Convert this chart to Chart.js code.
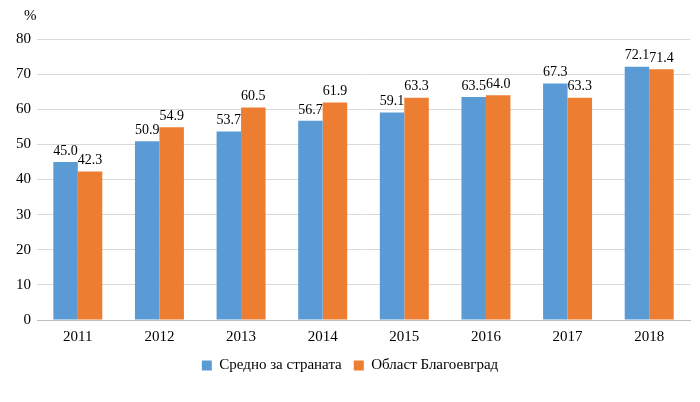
<!DOCTYPE html>
<html><head><meta charset="utf-8">
<script src="https://cdn.jsdelivr.net/npm/chart.js@4"></script>
<style>body{margin:0;background:#fff}#wrap{width:700px;height:402px}</style>
</head><body><div id="wrap"><canvas id="c"></canvas></div>
<script>
const years = ['2011','2012','2013','2014','2015','2016','2017','2018']
const national = [45.0, 50.9, 53.7, 56.7, 59.1, 63.5, 67.3, 72.1]
const blagoevgrad = [42.3, 54.9, 60.5, 61.9, 63.3, 64.0, 63.3, 71.4]

const font = { family: '"Liberation Serif", "Times New Roman", serif', size: 15 }

const valueLabels = {
    id: 'valueLabels',
    afterDatasetsDraw(chart) {
        const ctx = chart.ctx
        ctx.save()
        ctx.font = '14px "Liberation Serif", serif'
        ctx.fillStyle = '#000'
        ctx.textAlign = 'center'
        ctx.textBaseline = 'bottom'
        chart.data.datasets.forEach((ds, i) => {
            chart.getDatasetMeta(i).data.forEach((bar, j) => {
                ctx.fillText(ds.data[j].toFixed(1), bar.x, bar.y - 4)
            })
        })
        // axis unit
        ctx.font = '15px "Liberation Serif", serif'
        ctx.textAlign = 'left'
        ctx.fillText('%', 24, 24)
        ctx.restore()
    }
}

new Chart(document.getElementById('c'), {
    type: 'bar',
    data: {
        labels: years,
        datasets: [
            { label: 'Средно за страната', data: national, backgroundColor: '#5B9BD5' },
            { label: 'Област Благоевград', data: blagoevgrad, backgroundColor: '#ED7D31' }
        ]
    },
    options: {
        responsive: true,
        maintainAspectRatio: false,
        animation: false,
        layout: { padding: { top: 39, right: 10, bottom: 19, left: 10 } },
        datasets: { bar: { categoryPercentage: 0.6, barPercentage: 1 } },
        scales: {
            x: {
                grid: { display: false },
                border: { color: '#bfbfbf' },
                ticks: { font: font, color: '#000', padding: 0 }
            },
            y: {
                min: 0, max: 80,
                ticks: { stepSize: 10, font: font, color: '#000', padding: 6 },
                grid: { color: '#d9d9d9', drawTicks: false },
                border: { display: false }
            }
        },
        plugins: {
            legend: {
                position: 'bottom',
                labels: { font: font, color: '#000', boxWidth: 10, boxHeight: 10, padding: 12 }
            },
            tooltip: { enabled: false }
        }
    },
    plugins: [valueLabels]
})
</script></body></html>
